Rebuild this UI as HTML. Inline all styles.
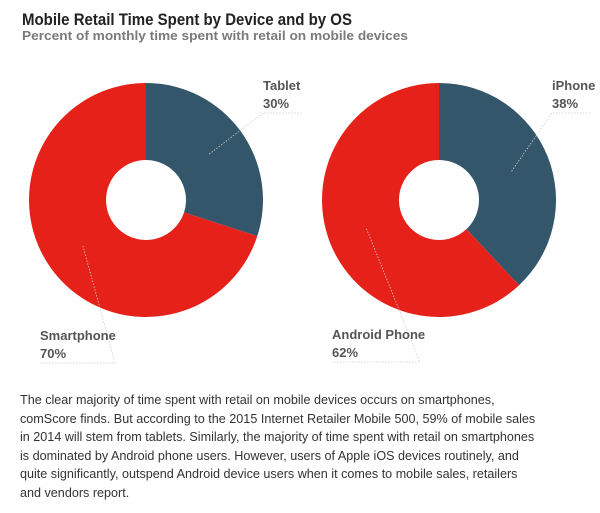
<!DOCTYPE html>
<html><head><meta charset="utf-8"><style>
html,body{margin:0;padding:0;background:#fff;width:600px;height:513px;overflow:hidden}
.t{position:absolute;left:22px;top:10px;font:bold 17px "Liberation Sans",sans-serif;color:#222;white-space:nowrap;transform-origin:0 0}
.s{position:absolute;left:22px;top:28px;font:bold 13px "Liberation Sans",sans-serif;color:#7a7a7a;white-space:nowrap;transform-origin:0 0}
.p{position:absolute;left:20px;top:391px;font:12.6px/18.6px "Liberation Sans",sans-serif;color:#333;white-space:nowrap}
svg{position:absolute;left:0;top:0}
.lbl{font:bold 13px "Liberation Sans",sans-serif;fill:#555}
</style></head><body>
<div class="t" id="tt">Mobile Retail Time Spent by Device and by OS</div>
<div class="s" id="st">Percent of monthly time spent with retail on mobile devices</div>
<svg id="c" width="600" height="513"></svg>
<div class="p">The clear majority of time spent with retail on mobile devices occurs on smartphones,<br>comScore finds. But according to the 2015 Internet Retailer Mobile 500, 59% of mobile sales<br>in 2014 will stem from tablets. Similarly, the majority of time spent with retail on smartphones<br>is dominated by Android phone users. However, users of Apple iOS devices routinely, and<br>quite significantly, outspend Android device users when it comes to mobile sales, retailers<br>and vendors report.</div>
<script>
const deviceLabels=["Tablet","Smartphone"];
const deviceValues=[30,70];
const osLabels=["iPhone","Android Phone"];
const osValues=[38,62];
const colors=["#33566b","#e62119"];
const NS="http://www.w3.org/2000/svg";
const svg=document.getElementById('c');
function fit(id,w){const e=document.getElementById(id);const r=e.getBoundingClientRect().width;e.style.transform='scaleX('+(w/r)+')';}
fit('tt',330);fit('st',386);
function arc(cx,cy,r0,r1,a0,a1){
  const p=(r,a)=>[cx+r*Math.sin(a),cy-r*Math.cos(a)];
  const lg=(a1-a0)>Math.PI?1:0;
  const [x1,y1]=p(r1,a0),[x2,y2]=p(r1,a1),[x3,y3]=p(r0,a1),[x4,y4]=p(r0,a0);
  return `M${x1},${y1}A${r1},${r1} 0 ${lg} 1 ${x2},${y2}L${x3},${y3}A${r0},${r0} 0 ${lg} 0 ${x4},${y4}Z`;
}
function donut(cx,labels,values,name,labelPos){
  const total=values.reduce((a,b)=>a+b,0);
  let a=0;
  values.forEach((v,i)=>{
    const a1=a+v/total*2*Math.PI;
    const path=document.createElementNS(NS,'path');
    path.setAttribute('d',arc(cx,200,40,117,a,a1));
    path.setAttribute('fill',colors[i]);
    
    
    svg.appendChild(path);
    const mid=(a+a1)/2;
    const [lx,ly,lw]=labelPos[i];
    const ax=cx+78*Math.sin(mid), ay=200-78*Math.cos(mid);
    const ex=i===0?lx:lx+lw, ey=ly+3;
    const line=document.createElementNS(NS,'polyline');
    line.setAttribute('points',`${ax},${ay} ${ex},${ey} ${i===0?lx+lw:lx},${ey}`);
    line.setAttribute('fill','none');line.setAttribute('stroke','#ccc');
    line.setAttribute('stroke-width','0.8');line.setAttribute('stroke-dasharray','1.5,1.5');
    
    
    svg.appendChild(line);
    const t=document.createElementNS(NS,'text');
    t.setAttribute('x',lx);t.setAttribute('y',ly-20);t.setAttribute('class','lbl');
    t.textContent=labels[i];
    
    
    svg.appendChild(t);
    const t2=document.createElementNS(NS,'text');
    t2.setAttribute('x',lx);t2.setAttribute('y',ly-2);t2.setAttribute('class','lbl');
    t2.textContent=v+'%';
    
    
    svg.appendChild(t2);
    a=a1;
  });
}
donut(146,deviceLabels,deviceValues,'device',[[263,110,40],[40,360,75]]);
donut(439,osLabels,osValues,'os',[[552,110,40],[332,359,88]]);
</script>
</body></html>
